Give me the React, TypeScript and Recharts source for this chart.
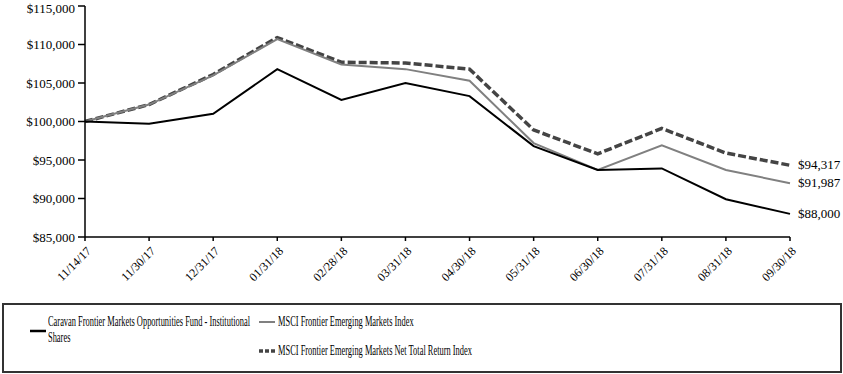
import { LabelList, Line, LineChart, XAxis, YAxis } from "recharts";

const dates = [
  "11/14/17", "11/30/17", "12/31/17", "01/31/18", "02/28/18", "03/31/18",
  "04/30/18", "05/31/18", "06/30/18", "07/31/18", "08/31/18", "09/30/18"
];
const fund = [100000, 99700, 101000, 106800, 102800, 105000, 103300, 96800, 93700, 93900, 89900, 88000];
const msci = [100000, 102200, 106000, 110700, 107400, 106800, 105300, 97200, 93700, 96900, 93700, 91987];
const msciNet = [100000, 102200, 106100, 110900, 107700, 107600, 106800, 98900, 95800, 99100, 95900, 94317];
const yTicks = [85000, 90000, 95000, 100000, 105000, 110000, 115000];

const data = dates.map((date, i) => ({ date, fund: fund[i], msci: msci[i], msciNet: msciNet[i] }));

const FONT = "'Liberation Serif', 'Times New Roman', serif";
const money = (v: number) => "$" + v.toLocaleString("en-US");

function XTick({ x, y, payload }: any) {
  return (
    <g transform={`translate(${x + 4},${y + 6})`}>
      <text transform="rotate(-45)" textAnchor="end" dy={4} fontSize={12} fontFamily={FONT} fill="#000">
        {payload.value}
      </text>
    </g>
  );
}

function EndLabel({ x, y, index, value }: any) {
  if (index !== dates.length - 1) return null;
  return (
    <text x={x + 8} y={y} dy={4} fontSize={13} fontFamily={FONT} fill="#000">
      {money(value)}
    </text>
  );
}

function LegendLine({ color, width, dash }: { color: string; width: number; dash?: string }) {
  return (
    <svg width={16} height={6} style={{ display: "block" }}>
      <line x1={0} y1={3} x2={16} y2={3} stroke={color} strokeWidth={width} strokeDasharray={dash} />
    </svg>
  );
}

// the legend text in the picture is a narrow serif, so squeeze it sideways
function Narrow({ children, left, top }: { children: any; left: number; top: number }) {
  return (
    <div
      style={{
        position: "absolute", left, top, whiteSpace: "nowrap",
        transform: "scaleX(0.6)", transformOrigin: "left top"
      }}
    >
      {children}
    </div>
  );
}

export default function App() {
  document.body.style.margin = "0";
  return (
    <div style={{ position: "relative", width: 843, height: 374, background: "#fff", fontFamily: FONT }}>
      <LineChart width={843} height={300} data={data} margin={{ top: 6, right: 53, bottom: 7, left: 0 }}>
        <XAxis
          dataKey="date"
          interval={0}
          height={56}
          tick={<XTick />}
          tickSize={4}
          axisLine={{ stroke: "#000", strokeWidth: 1.5 }}
          tickLine={{ stroke: "#000", strokeWidth: 1.5 }}
        />
        <YAxis
          width={85}
          domain={[85000, 115000]}
          ticks={yTicks}
          tickFormatter={money}
          tickSize={7}
          tickMargin={3}
          axisLine={{ stroke: "#000", strokeWidth: 1.5 }}
          tickLine={{ stroke: "#000", strokeWidth: 1.5 }}
          tick={{ fontSize: 13, fontFamily: FONT, fill: "#000" }}
        />
        <Line dataKey="msciNet" stroke="#444" strokeWidth={3.5} strokeDasharray="8 3" dot={false} isAnimationActive={false}>
          <LabelList dataKey="msciNet" content={<EndLabel />} />
        </Line>
        <Line dataKey="msci" stroke="#808080" strokeWidth={2} dot={false} isAnimationActive={false}>
          <LabelList dataKey="msci" content={<EndLabel />} />
        </Line>
        <Line dataKey="fund" stroke="#000" strokeWidth={2} dot={false} isAnimationActive={false}>
          <LabelList dataKey="fund" content={<EndLabel />} />
        </Line>
      </LineChart>
      <div
        style={{
          position: "absolute", left: 2, top: 303, width: 836, height: 66,
          border: "2px solid #333", fontSize: 14, color: "#000", lineHeight: "16px"
        }}
      >
        <div style={{ position: "absolute", left: 26, top: 23 }}>
          <LegendLine color="#000" width={2.5} />
        </div>
        <Narrow left={44} top={9}>Caravan Frontier Markets Opportunities Fund - Institutional</Narrow>
        <Narrow left={44} top={25}>Shares</Narrow>
        <div style={{ position: "absolute", left: 255, top: 14 }}>
          <LegendLine color="#808080" width={2} />
        </div>
        <Narrow left={274} top={9}>MSCI Frontier Emerging Markets Index</Narrow>
        <div style={{ position: "absolute", left: 255, top: 43 }}>
          <LegendLine color="#444" width={3.5} dash="4 2" />
        </div>
        <Narrow left={274} top={38}>MSCI Frontier Emerging Markets Net Total Return Index</Narrow>
      </div>
    </div>
  );
}
